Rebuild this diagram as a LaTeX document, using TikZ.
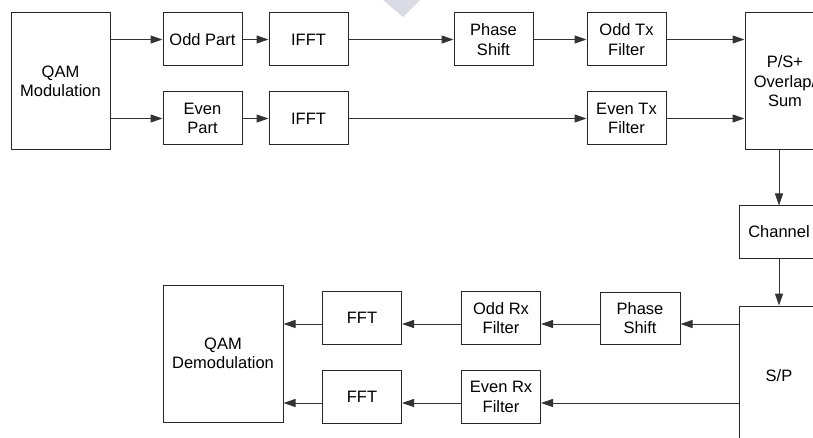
\documentclass[tikz,border=0pt]{standalone}
\usepackage{fontspec}
\setmainfont{Liberation Sans}
\usetikzlibrary{arrows.meta}

\begin{document}
\begin{tikzpicture}[x=1pt,y=-1pt,
  every node/.style={font=\fontsize{16.5}{19.5}\selectfont},
  blk/.style={draw=black!85,line width=1pt,inner sep=0pt,align=center,
    minimum width=79pt,minimum height=53pt},
  arr/.style={draw=black!80,line width=1pt,-{Triangle[length=12pt,width=8pt]}}]
  \useasboundingbox (0,0) rectangle (813,438);
  \clip (0,0) rectangle (813,438);
  \fill[blue!15!gray!25] (383,0) -- (420,0) -- (403,17) -- cycle;

  % transmitter
  \node[blk,minimum width=99pt,minimum height=137pt] (qammod) at (60.5,81.5) {QAM\\Modulation};
  \node[blk] (oddpart) at (202.5,39.5) {Odd Part};
  \node[blk] (ifftodd) at (308.5,39.5) {IFFT};
  \node[blk] (evenpart) at (202.5,118.5) {Even\\Part};
  \node[blk] (iffteven) at (308.5,118.5) {IFFT};
  \node[blk] (phasetx) at (493.5,39.5) {Phase\\Shift};
  \node[blk] (oddtx) at (626.5,39.5) {Odd Tx\\Filter};
  \node[blk] (eventx) at (626.5,118.5) {Even Tx\\Filter};
  \node[blk,minimum width=80pt,minimum height=137pt] (ps) at (785,81.5) {P/S+\\Overlap/\\Sum};

  \draw[arr] (qammod.east |- oddpart) -- (oddpart);
  \draw[arr] (qammod.east |- evenpart) -- (evenpart);
  \draw[arr] (oddpart) -- (ifftodd);
  \draw[arr] (evenpart) -- (iffteven);
  \draw[arr] (ifftodd) -- (phasetx);
  \draw[arr] (phasetx) -- (oddtx);
  \draw[arr] (iffteven) -- (eventx);
  \draw[arr] (oddtx) -- (ps.west |- oddtx);
  \draw[arr] (eventx) -- (ps.west |- eventx);

  % channel
  \node[blk,minimum width=80pt,minimum height=52pt] (chan) at (779,232) {Channel};
  \node[blk,minimum width=80pt,minimum height=140pt] (sp) at (779,376) {S/P};
  \draw[arr] (ps.south -| chan) -- (chan.north);
  \draw[arr] (chan.south) -- (sp.north);

  % receiver
  \node[blk,minimum width=80pt,minimum height=52pt] (phaserx) at (640,318) {Phase\\Shift};
  \node[blk] (oddrx) at (501,318) {Odd Rx\\Filter};
  \node[blk] (fftodd) at (362,318) {FFT};
  \node[blk] (evenrx) at (501,397) {Even Rx\\Filter};
  \node[blk] (ffteven) at (362,397) {FFT};
  \node[blk,minimum width=120pt,minimum height=137pt] (qamdemod) at (223,353.5) {QAM\\Demodulation};

  \draw[arr] ([yshift=-6pt]sp.west |- phaserx) -- ([yshift=-6pt]phaserx.east);
  \draw[arr] ([yshift=-6pt]phaserx.west) -- ([yshift=-6pt]oddrx.east);
  \draw[arr] ([yshift=-6pt]oddrx.west) -- ([yshift=-6pt]fftodd.east);
  \draw[arr] ([yshift=-6pt]fftodd.west) -- ([yshift=-6pt]qamdemod.east |- fftodd);
  \draw[arr] ([yshift=-6pt]sp.west |- evenrx) -- ([yshift=-6pt]evenrx.east);
  \draw[arr] ([yshift=-6pt]evenrx.west) -- ([yshift=-6pt]ffteven.east);
  \draw[arr] ([yshift=-6pt]ffteven.west) -- ([yshift=-6pt]qamdemod.east |- ffteven);
\end{tikzpicture}
\end{document}
